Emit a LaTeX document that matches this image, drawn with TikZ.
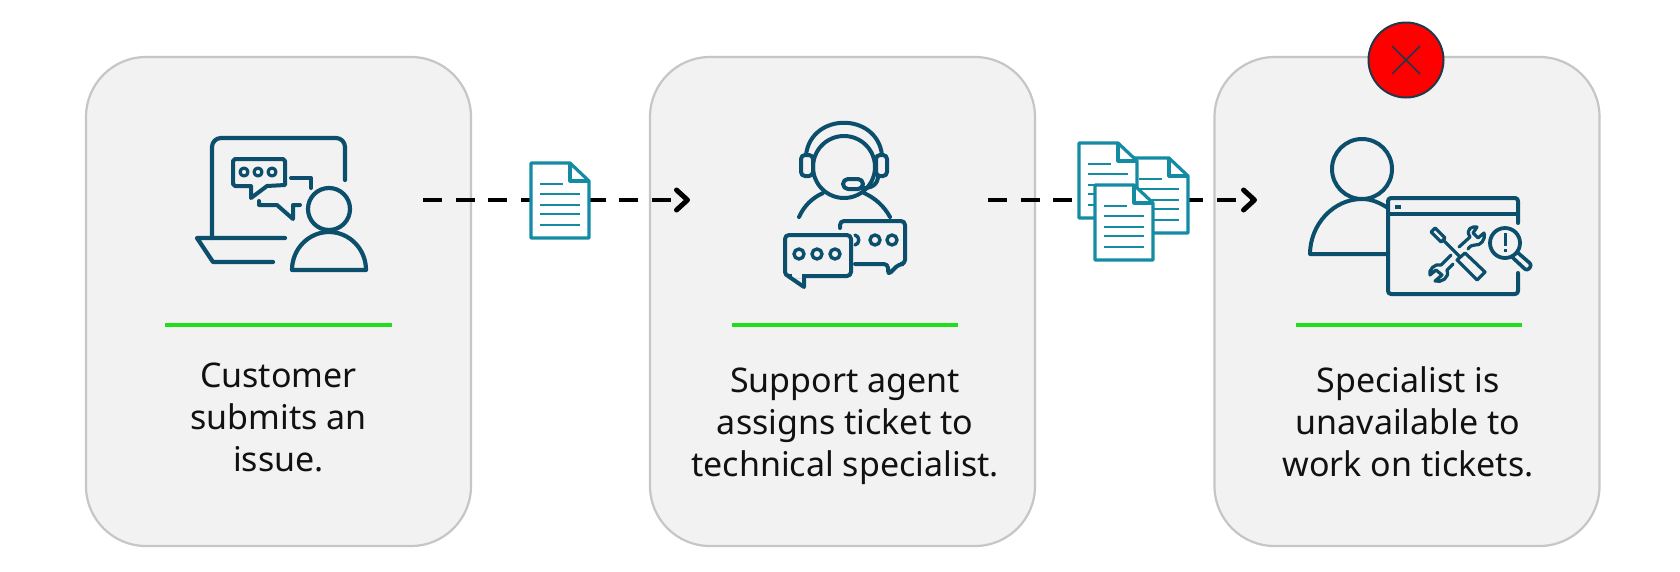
\documentclass[tikz,border=0pt]{standalone}
\usepackage{fontspec}
\setmainfont{Noto Sans}
\usetikzlibrary{arrows.meta}
\definecolor{iconblue}{HTML}{0B4F6C}
\definecolor{docteal}{HTML}{138BA3}
\definecolor{panelfill}{HTML}{F2F2F2}
\definecolor{panelline}{HTML}{C6C6C6}
\definecolor{rulegreen}{HTML}{22DD1C}
\definecolor{labelink}{HTML}{111111}
\definecolor{stopring}{HTML}{20384A}
\tikzset{
  panel/.style={draw=panelline,fill=panelfill,line width=2.2pt,rounded corners=60pt,minimum width=385pt,minimum height=489pt,inner sep=0pt},
  icon/.style={draw=iconblue,line width=4.2pt,line cap=round,line join=round},
  thin icon/.style={draw=iconblue,line width=3.2pt,line cap=round,line join=round},
  greenrule/.style={draw=rulegreen,line width=3.4pt},
  caption/.style={align=center,text=labelink,font=\fontsize{34}{42}\selectfont,inner sep=0pt},
  flow/.style={draw=black,line width=4.8pt,dash pattern=on 19pt off 13.7pt,-{Straight Barb[length=11pt,width=20pt,line width=5pt,round]}},
  docicon/.pic={
    \draw[draw=docteal,fill=white,line width=3.2pt,line join=round] (0,0)--(39,0)--(58,18)--(58,75)--(0,75)--cycle;
    \draw[draw=docteal,line width=3.2pt,line join=round] (39,0)--(39,18)--(58,18);
    \draw[draw=docteal,line width=2.8pt] (9,21)--(32,21) (9,31)--(49,31) (9,42)--(49,42) (9,51)--(49,51) (9,62)--(49,62);
  }
}
\begin{document}
\begin{tikzpicture}[x=1pt,y=-1pt]
\useasboundingbox (0,0) rectangle (1680,571);
\fill[white] (0,0) rectangle (1680,571);
% panels
\node[panel] (p1) at (278.5,301.5) {};
\node[panel] (p2) at (842.5,301.5) {};
\node[panel] (p3) at (1407,301.5) {};
% rules
\draw[greenrule] (165,325)--(392,325);
\draw[greenrule] (732,325)--(958,325);
\draw[greenrule] (1296,325)--(1522,325);
% captions
\node[caption] (c1) at (278.5,417) {Customer\\submits an\\issue.};
\node[caption] (c2) at (845,426) {Support agent\\assigns ticket to\\technical specialist.};
\node[caption] (c3) at (1408,422) {Specialist is\\unavailable to\\work on tickets.};
% flows
\coordinate (f1s) at (423,200);
\coordinate (f1e) at (690,200);
\coordinate (f2s) at (988,200);
\coordinate (f2e) at (1257,200);
\draw[flow] (f1s)--(f1e);
\draw[flow] (f2s)--(f2e);
\pic at (531,163) {docicon};
\pic at (1130,158) {docicon};
\pic at (1079,143) {docicon};
\pic at (1095,185) {docicon};
% icon 1
\draw[icon,rounded corners=9pt] (212,238)--(212,138)--(345,138)--(345,180);
\draw[icon] (285,238)--(197,238)--(213,262)--(273,262);
\draw[icon,line width=4pt] (235,159)--(283,159)--(285,161)--(285,185)--(267,186)--(251,198)--(251,186)--(235,186)--(233,184)--(233,161)--cycle;
\foreach \dx in {244,258,272}{\draw[icon,line width=3.2pt] (\dx,172) circle[radius=4];}
\draw[icon,line width=4pt] (291,178)--(311,178)--(311,188);
\draw[icon,line width=4pt] (259,201)--(259,205)--(277,205)--(293,219)--(293,205)--(300,205);
\draw[icon] (329,209) circle[radius=21];
\draw[icon] (292,270) arc[start angle=180,end angle=360,x radius=37,y radius=38]--cycle;
% icon 2
\draw[icon,line width=4pt] (844,167) circle[radius=31];
\draw[icon,line width=4pt] (806,155) .. controls (811,112) and (877,112) .. (882,155);
\draw[icon,line width=4pt,fill=panelfill,rounded corners=4pt] (801,155) rectangle (813,176);
\draw[icon,line width=4pt,fill=panelfill,rounded corners=4pt] (876,155) rectangle (887,176);
\draw[icon,line width=4pt] (860,188) .. controls (872,189) and (878,184) .. (878,176);
\draw[icon,line width=4pt,fill=panelfill,rounded corners=5pt] (843,179) rectangle (863,189);
\draw[icon,line width=4pt] (799,217) .. controls (804,206) and (812,198) .. (823,193);
\draw[icon,line width=4pt] (864,193) .. controls (875,198) and (884,206) .. (890,217);
\draw[icon,line width=4pt,rounded corners=4pt] (840,228)--(840,221)--(905,221)--(905,264)--(899,264)--(888,275)--(888,264)--(855,264);
\foreach \dx in {875,892}{\draw[icon,line width=3.4pt] (\dx,240) circle[radius=5];}
\draw[icon,line width=3.4pt] (855,235) .. controls (860,236) and (860,244) .. (855,245);
\draw[icon,line width=4pt,rounded corners=4pt,fill=panelfill] (785,235) rectangle (851,276);
\draw[draw=panelfill,line width=4.4pt] (792,276)--(802,276);
\draw[icon,line width=4pt] (788,276)--(804,287)--(804,276);
\foreach \dx in {799,817,835}{\draw[icon,line width=3.4pt] (\dx,254) circle[radius=5];}
% icon 3
\draw[icon,line width=4pt] (1362,169) circle[radius=30];
\draw[icon,line width=4pt] (1388,254)--(1310,254) .. controls (1310,225) and (1333,199) .. (1362,199) .. controls (1372,199) and (1380,203) .. (1388,208);
\draw[icon,line width=4pt,rounded corners=3pt] (1518,223)--(1518,198)--(1388,198)--(1388,294)--(1518,294)--(1518,273);
\draw[icon,line width=3.6pt] (1388,214)--(1518,214);
\draw[icon,line width=3.4pt,line cap=butt] (1395,207)--(1401,207);
% tools
\draw[thin icon] (1431,232)--(1435,228)--(1445,238)--(1441,242)--cycle;
\draw[thin icon] (1443,240)--(1460,257);
\draw[thin icon] (1465,253)--(1485,272)--(1477,280)--(1457,260)--cycle;
\draw[thin icon] (1459,247)--(1470,237) .. controls (1465,229) and (1472,226) .. (1477,227)--(1473,233)--(1478,238)--(1484,233) .. controls (1486,240) and (1480,246) .. (1475,245) .. controls (1472,245) and (1470,246) .. (1468,249);
\draw[thin icon] (1451,255)--(1441,265) .. controls (1435,263) and (1428,270) .. (1430,275)--(1436,270)--(1442,275)--(1435,281) .. controls (1441,283) and (1450,278) .. (1447,270)--(1453,264);
% magnifier
\draw[thin icon,line width=3.8pt] (1505,243) circle[radius=15];
\draw[thin icon,line width=3pt,line cap=butt] (1505,233)--(1505,246) (1505,249)--(1505,252);
\draw[thin icon,line width=3.6pt,rounded corners=3pt] (1517,252)--(1532,265)--(1527,271)--(1512,257);
% stop mark
\node[circle,draw=stopring,fill=red,line width=2pt,minimum size=75pt,inner sep=0pt] (stop) at (1406,60) {};
\draw[draw=stopring,line width=1.6pt] (1392,46)--(1420,74) (1420,46)--(1392,74);
\end{tikzpicture}
\end{document}
